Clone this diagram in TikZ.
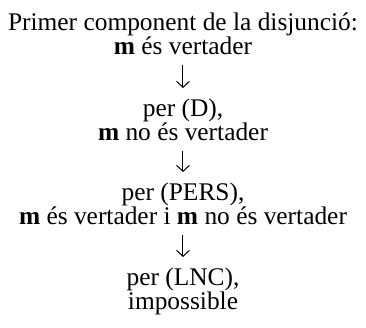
\documentclass[tikz,border=0pt]{standalone}
\usepackage{fontspec}
\setmainfont{Liberation Serif}
\usetikzlibrary{arrows.meta}

\begin{document}
\begin{tikzpicture}[x=1pt, y=1pt,
        stepnode/.style={align=center, inner sep=0pt, anchor=base, font=\fontsize{12.7}{12}\selectfont},
        conn/.style={-{Straight Barb[length=3pt, width=6.5pt]}, line width=0.5pt, shorten <=5pt, shorten >=5pt},
        ]
            \useasboundingbox (0,0) rectangle (183,-164);

            \node[stepnode]  at(91.5,-27) (prim) {Primer component de la disjunci\'o:\\\textbf{m} \'es vertader};
            \node[stepnode]  at(91.5,-70) (d) {per (D),\\\textbf{m} no \'es vertader};
            \node[stepnode]  at(91.5,-112) (pers) {per (PERS),\\\textbf{m} \'es vertader i \textbf{m} no \'es vertader};
            \node[stepnode]  at(91.5,-154.5) (lnc) {per (LNC),\\impossible};

            \draw[conn] (prim)  --  (d) ;
            \draw[conn] (d)  --  (pers) ;
            \draw[conn] (pers)  --  (lnc) ;

            \end{tikzpicture}
\end{document}
